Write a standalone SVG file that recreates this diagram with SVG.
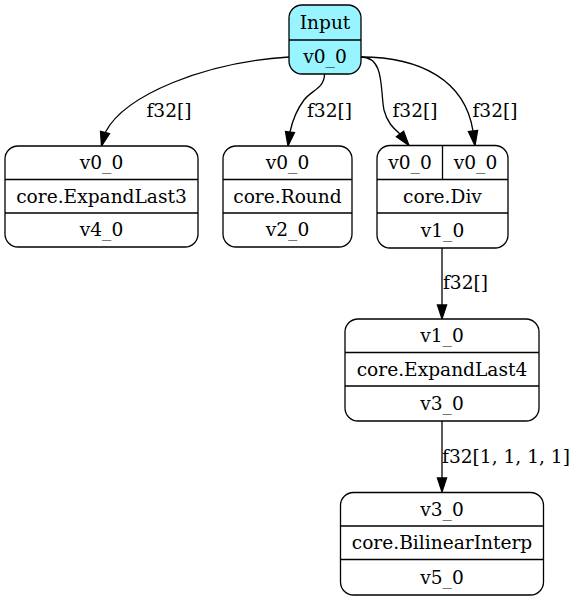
<svg xmlns="http://www.w3.org/2000/svg" width="576" height="601" viewBox="0 0 576 601">
<style>
text{font-family:"DejaVu Serif","Liberation Serif",serif;font-size:18.6px;fill:#000;text-anchor:middle}
.box{fill:#fff;stroke:#000;stroke-width:1.3}
.in{fill:#98f5ff;stroke:#000;stroke-width:1.3}
.div{stroke:#000;stroke-width:1.3;fill:none}
.edge{fill:none;stroke:#000;stroke-width:1.3}
.ah{fill:#000;stroke:#000;stroke-width:1.3}
</style>
<rect width="576" height="601" fill="#fff"/>
<g id="connectors">
<path class="edge" d="M289,57 C205,62 125,95 105.5,132"/>
<polygon class="ah" points="109.5,133.6 100.5,131.3 101.5,146"/>
<text x="169" y="116.5">f32[]</text>
<path class="edge" d="M324.5,74 C324.5,88 312,90 304,100 C298,108 293,118 290,132"/>
<polygon class="ah" points="294.5,132.6 285.5,131.4 288,146"/>
<text x="329.5" y="116.5">f32[]</text>
<path class="edge" d="M361,57 C385,57 380,90 384,110 C387,122 393,128 400,134"/>
<polygon class="ah" points="403.6,131.2 396.4,136.8 409,145.5"/>
<text x="415" y="116.5">f32[]</text>
<path class="edge" d="M361,57 C420,57 465,80 473,131"/>
<polygon class="ah" points="477.6,130.4 468.4,131.6 475,145.5"/>
<text x="495" y="116.5">f32[]</text>
<path class="edge" d="M442,248 L442,305"/>
<polygon class="ah" points="446.6,305 437.4,305 442,319"/>
<text x="465.5" y="289">f32[]</text>
<path class="edge" d="M442,421 L442,478"/>
<polygon class="ah" points="446.6,478 437.4,478 442,492"/>
<text x="506" y="463">f32[1, 1, 1, 1]</text>
</g>
<g id="node_input">
<rect class="in" x="289" y="5" width="72" height="69" rx="13"/>
<line class="div" x1="289" y1="40" x2="361" y2="40"/>
<text x="325" y="29">Input</text>
<text x="325" y="63.3">v0_0</text>
</g>
<g id="node_expandlast3">
<rect class="box" x="5" y="146" width="193" height="101" rx="13"/>
<line class="div" x1="5" y1="179.5" x2="198" y2="179.5"/>
<line class="div" x1="5" y1="213" x2="198" y2="213"/>
<text x="101.5" y="168.8">v0_0</text>
<text x="101.5" y="202.5">core.ExpandLast3</text>
<text x="101.5" y="236.3">v4_0</text>
</g>
<g id="node_round">
<rect class="box" x="223" y="146" width="129" height="101" rx="13"/>
<line class="div" x1="223" y1="179.5" x2="352" y2="179.5"/>
<line class="div" x1="223" y1="213" x2="352" y2="213"/>
<text x="287.5" y="168.8">v0_0</text>
<text x="287.5" y="202.5">core.Round</text>
<text x="287.5" y="236.3">v2_0</text>
</g>
<g id="node_div">
<rect class="box" x="377" y="145.5" width="131" height="102.5" rx="13"/>
<line class="div" x1="442.5" y1="145.5" x2="442.5" y2="179.5"/>
<line class="div" x1="377" y1="179.5" x2="508" y2="179.5"/>
<line class="div" x1="377" y1="213" x2="508" y2="213"/>
<text x="410" y="168.8">v0_0</text>
<text x="475.5" y="168.8">v0_0</text>
<text x="442.5" y="202.5">core.Div</text>
<text x="442.5" y="236.8">v1_0</text>
</g>
<g id="node_expandlast4">
<rect class="box" x="345" y="319" width="194" height="102" rx="13"/>
<line class="div" x1="345" y1="352.5" x2="539" y2="352.5"/>
<line class="div" x1="345" y1="386" x2="539" y2="386"/>
<text x="442" y="342">v1_0</text>
<text x="442" y="375.5">core.ExpandLast4</text>
<text x="442" y="409.5">v3_0</text>
</g>
<g id="node_bilinear">
<rect class="box" x="340.5" y="492.5" width="203" height="102.5" rx="13"/>
<line class="div" x1="340.5" y1="526" x2="543.5" y2="526"/>
<line class="div" x1="340.5" y1="559.5" x2="543.5" y2="559.5"/>
<text x="442" y="515.5">v3_0</text>
<text x="442" y="549">core.BilinearInterp</text>
<text x="442" y="583.5">v5_0</text>
</g>
</svg>
